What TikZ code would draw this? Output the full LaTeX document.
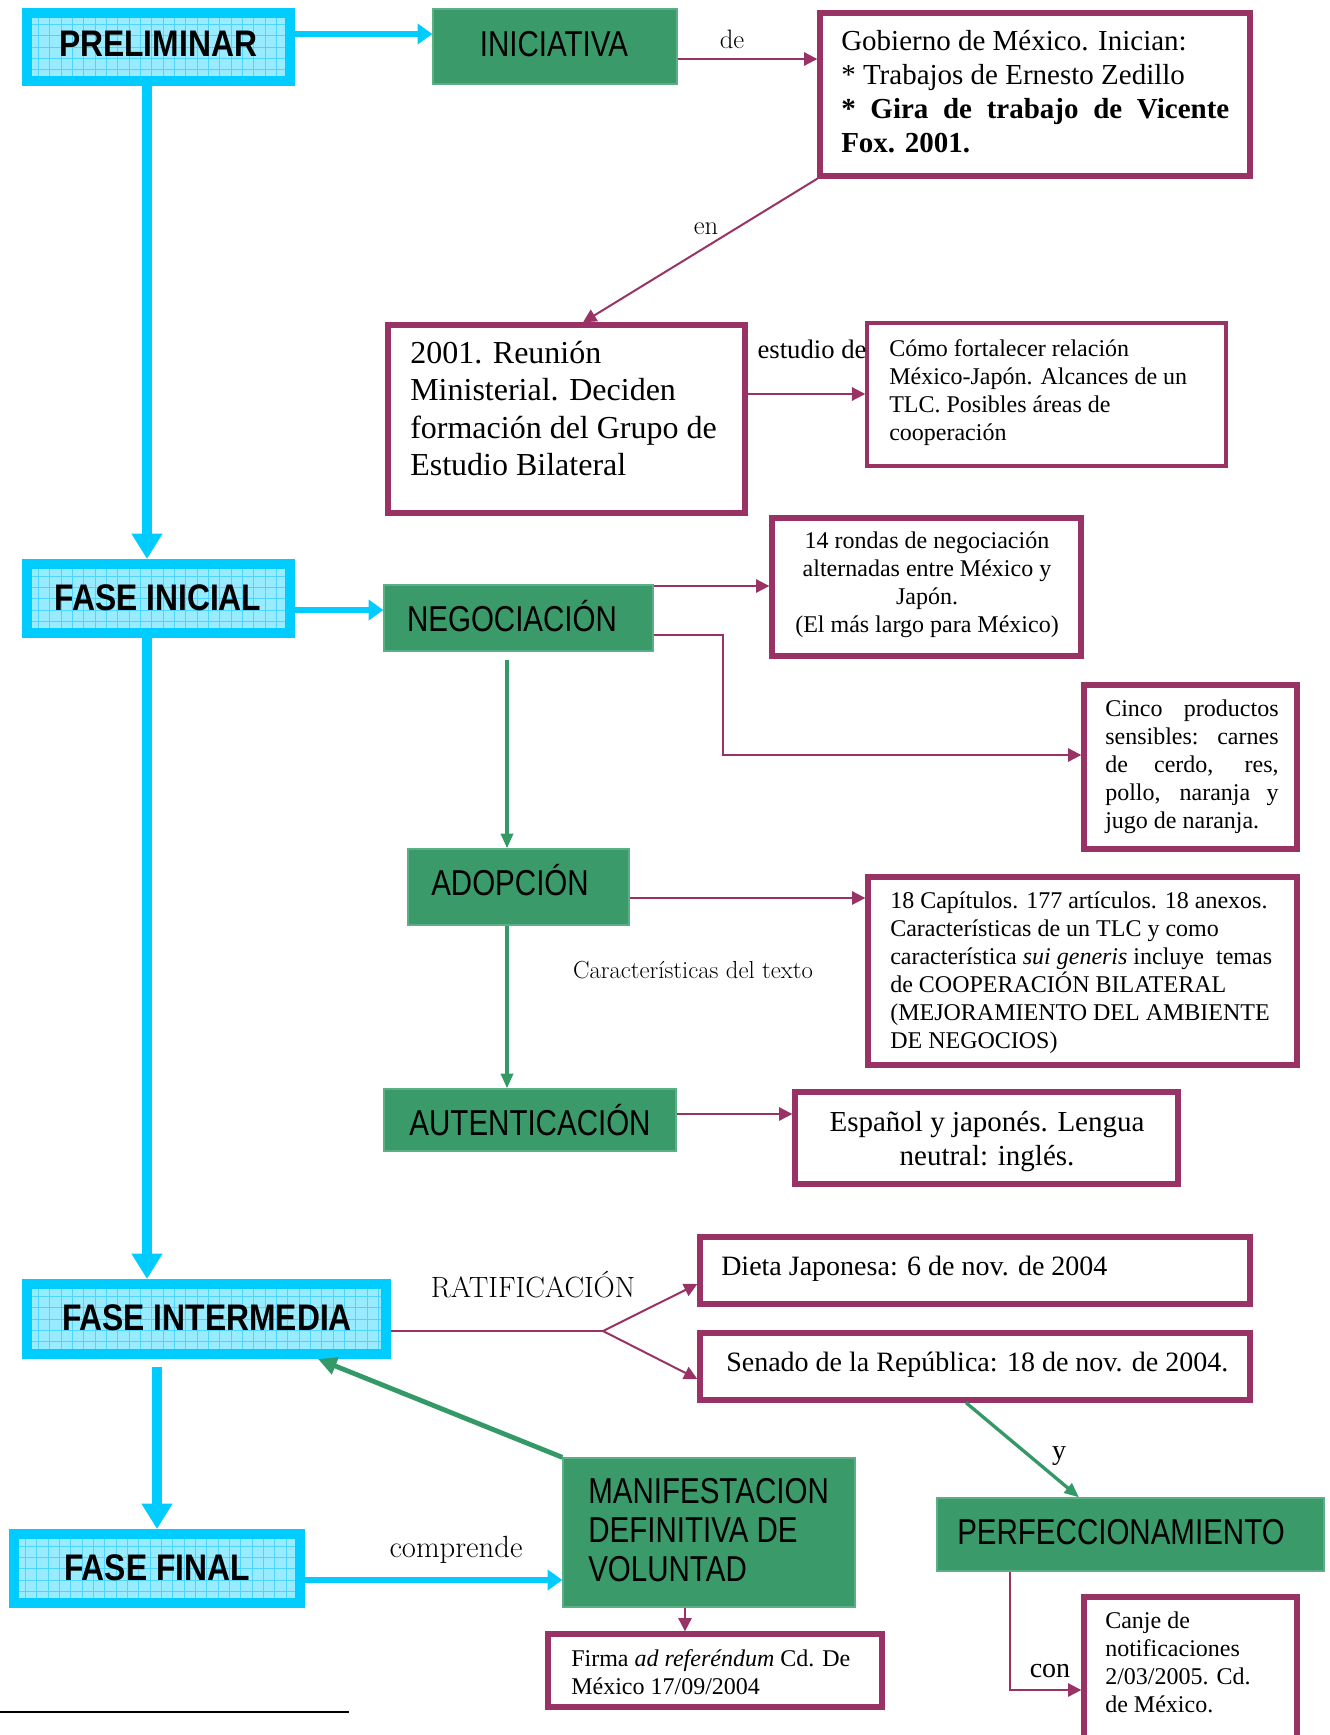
\documentclass[tikz,border=0pt]{standalone}
\usepackage{fontspec}
\usetikzlibrary{arrows.meta,fit,calc}
\newfontfamily\tmfont{Liberation Serif}
\newfontfamily\hdfont[FakeStretch=0.86]{Liberation Sans}
\newfontfamily\gnfont[FakeStretch=0.82]{Liberation Sans}
\definecolor{cyanB}{HTML}{00CCFF}
\definecolor{cyanL}{HTML}{99EBFF}
\definecolor{cyanG}{HTML}{4DD5FF}
\definecolor{greenF}{HTML}{3A9A6A}
\definecolor{greenE}{HTML}{5BAF84}
\definecolor{greenA}{HTML}{339966}
\definecolor{mag}{HTML}{993366}
\tikzset{
  cyanbox/.style={draw=cyanB, line width=7.5pt, fill=cyanL, inner sep=0pt,
    path picture={\draw[cyanG, line width=0.5pt, step=8.5pt] (path picture bounding box.south west) grid (path picture bounding box.north east);}},
  greenbox/.style={draw=greenE, line width=1pt, fill=greenF, inner sep=0pt},
  magbox/.style={draw=mag, line width=4pt, fill=white, inner sep=0pt},
  thinmag/.style={draw=mag, line width=2.6pt, fill=white, inner sep=0pt},
  hdtext/.style={font=\hdfont\bfseries\fontsize{27.75}{32}\selectfont, inner sep=0pt},
  gntext/.style={font=\gnfont\fontsize{27}{29.25}\selectfont, inner sep=0pt},
  tmA/.style={font=\tmfont\fontsize{21.75}{25.5}\selectfont, inner sep=0pt, align=left},
  tmB/.style={font=\tmfont\fontsize{24}{28.1}\selectfont, inner sep=0pt, align=left},
  tmC/.style={font=\tmfont\fontsize{18}{21}\selectfont, inner sep=0pt, align=left},
  tmD/.style={font=\tmfont\fontsize{21}{25}\selectfont, inner sep=0pt, align=left},
  lbl/.style={inner sep=0pt},
  cyanarrow/.style={draw=cyanB, line width=4pt, -{Triangle[length=11pt,width=15pt]}},
  cyanvert/.style={draw=cyanB, line width=7.5pt, -{Triangle[length=19pt,width=22pt]}},
  magarrow/.style={draw=mag, line width=1.5pt, -{Triangle[length=10pt,width=10pt]}},
  magline/.style={draw=mag, line width=1.5pt},
  grarrow/.style={draw=greenA, line width=2.5pt, -{Triangle[length=11pt,width=9pt]}},
  grthick/.style={draw=greenA, line width=3.6pt, -{Triangle[length=14pt,width=13pt]}},
}
\begin{document}
\begin{tikzpicture}[x=0.75pt, y=-0.75pt]
\path[use as bounding box, clip] (0,0) rectangle (1330,1735);
\fill[white] (0,0) rectangle (1330,1735);

% ---------- boxes ----------
\node[cyanbox, fit={(27,13) (290,81)}] (prelim) {};
\node[hdtext] (prelimt) at (158,44) {PRELIMINAR};
\node[greenbox, fit={(433,9) (677,84)}] (inic) {};
\node[gntext] (inict) at (554,44) {INICIATIVA};
\node[magbox, fit={(820,13) (1250,176)}] (gob) {};
\node[tmA, anchor=north west] (gobt) at (841,26) {\strut Gobierno de México. Inician:\\ * Trabajos de Ernesto Zedillo\\ \makebox[291pt][s]{\bfseries * Gira de trabajo de Vicente}\\ \textbf{Fox. 2001.}};

\node[magbox, fit={(388,325) (745,513)}] (reun) {};
\node[tmB, anchor=north west] (reunt) at (410,337) {\strut 2001. Reunión\\ Ministerial. Deciden\\ formación del Grupo de\\ Estudio Bilateral};
\node[thinmag, fit={(867,323) (1226,466)}] (como) {};
\node[tmC, anchor=north west] (comot) at (889,337) {\strut Cómo fortalecer relación\\ México-Japón. Alcances de un\\ TLC. Posibles áreas de\\ cooperación};

\node[cyanbox, fit={(27,564) (290,633)}] (fini) {};
\node[hdtext] (finit) at (158,598) {FASE INICIAL};
\node[greenbox, fit={(384,585) (653,651)}] (nego) {};
\node[gntext] (negot) at (512,616) {NEGOCIACIÓN};
\node[magbox, fit={(772,518) (1081,656)}] (ronda) {};
\node[tmC, anchor=north, align=center] (rondat) at (927,529) {\strut 14 rondas de negociación\\ alternadas entre México y\\ Japón.\\ (El más largo para México)};
\node[magbox, fit={(1084,685) (1297,849)}] (cinco) {};
\node[tmC, anchor=north west] (cincot) at (1105,697) {\strut\makebox[130pt][s]{Cinco productos}\\ \makebox[130pt][s]{sensibles: carnes}\\ \makebox[130pt][s]{de cerdo, res,}\\ \makebox[130pt][s]{pollo, naranja y}\\ jugo de naranja.};

\node[greenbox, fit={(408,849) (629,925)}] (adop) {};
\node[gntext] (adopt) at (510,880) {ADOPCIÓN};
\node[magbox, fit={(868,877) (1297,1065)}] (cap) {};
\node[tmC, anchor=north west] (capt) at (890,889) {\strut 18 Capítulos. 177 artículos. 18 anexos.\\ Características de un TLC y como\\ característica \textit{sui generis} incluye\ \ temas\\ de COOPERACIÓN BILATERAL\\ (MEJORAMIENTO DEL AMBIENTE\\ DE NEGOCIOS)};

\node[greenbox, fit={(384,1089) (676,1151)}] (aut) {};
\node[gntext] (autt) at (530,1120) {AUTENTICACIÓN};
\node[magbox, fit={(795,1092) (1178,1184)}] (esp) {};
\node[tmA, anchor=north, align=center] (espt) at (987,1107) {\strut Español y japonés. Lengua\\ neutral: inglés.};

\node[cyanbox, fit={(27,1284) (386,1354)}] (fint) {};
\node[hdtext] (fintt) at (207,1318) {FASE INTERMEDIA};
\node[magbox, fit={(700,1237) (1250,1304)}] (dieta) {};
\node[tmD, anchor=north west] (dietat) at (721,1252) {\strut Dieta Japonesa: 6 de nov. de 2004};
\node[magbox, fit={(700,1333) (1250,1400)}] (senado) {};
\node[tmD, anchor=north west] (senadot) at (726,1348) {\strut Senado de la República: 18 de nov. de 2004.};

\node[greenbox, fit={(937,1498) (1324,1571)}] (perf) {};
\node[gntext] (perft) at (1121,1532) {PERFECCIONAMIENTO};
\node[magbox, fit={(1084,1597) (1297,1765)}] (canje) {};
\node[tmC, anchor=north west] (canjet) at (1105,1609) {\strut Canje de\\ notificaciones\\ 2/03/2005. Cd.\\ de México.};

\node[cyanbox, fit={(14,1534) (300,1603)}] (ffin) {};
\node[hdtext] (ffint) at (157,1568) {FASE FINAL};
\node[greenbox, fit={(563,1458) (855,1607)}] (manif) {};
\node[gntext, anchor=north west, align=left] (manift) at (588,1476) {\strut MANIFESTACION\\ DEFINITIVA DE\\ VOLUNTAD};
\node[magbox, fit={(548,1634) (882,1707)}] (firma) {};
\node[tmC, anchor=north west] (firmat) at (571,1647) {\strut Firma \textit{ad referéndum} Cd. De\\ México 17/09/2004};

% ---------- labels ----------
\node[lbl, font=\fontsize{20}{23}\selectfont] (lde) at (732,39) {de};
\node[lbl, font=\fontsize{20}{23}\selectfont] (len) at (706,229) {en};
\node[lbl, font=\tmfont\fontsize{20}{23}\selectfont] (lest) at (812,349) {estudio de};
\node[lbl, font=\fontsize{18.5}{21}\selectfont] (lcar) at (693,970) {Características del texto};
\node[lbl, font=\fontsize{22}{25}\selectfont] (lrat) at (533,1285) {RATIFICACIÓN};
\node[lbl, font=\fontsize{23}{26}\selectfont] (lcomp) at (456,1550) {comprende};
\node[lbl, font=\tmfont\fontsize{21}{24}\selectfont] (ly) at (1059,1456) {y};
\node[lbl, font=\tmfont\fontsize{21}{24}\selectfont] (lcon) at (1050,1671) {con};

% ---------- coordinates ----------
\coordinate (bendA) at (723,755);
\coordinate (negdown) at (507,660);
\coordinate (ratif) at (603,1331);
\coordinate (fintdown) at (157,1367);

% ---------- connectors ----------
\draw[cyanarrow] (prelim.east |- 0,34) -- (inic.west |- 0,34);
\draw[magarrow] (inic.east |- 0,59) -- (gob.west |- 0,59);
\draw[magarrow] (gob.south west) -- (583,0 |- reun.north);
\draw[magarrow] (reun.east |- 0,394) -- (como.west |- 0,394);
\draw[cyanvert] (147,0 |- prelim.south) -- (147,0 |- fini.north);
\draw[cyanarrow] (fini.east |- 0,610) -- (nego.west |- 0,610);
\draw[magarrow] (nego.east |- 0,586) -- (ronda.west |- 0,586);
\draw[magarrow] (nego.east |- 0,635) -| (bendA) -- (cinco.west |- bendA);
\draw[grarrow] (negdown) -- (negdown |- adop.north);
\draw[magarrow] (adop.east |- 0,898) -- (cap.west |- 0,898);
\draw[grarrow] (507,0 |- adop.south) -- (507,0 |- aut.north);
\draw[magarrow] (aut.east |- 0,1114) -- (esp.west |- 0,1114);
\draw[cyanvert] (147,0 |- fini.south) -- (147,0 |- fint.north);
\draw[magline] (fint.east |- ratif) -- (ratif);
\draw[magarrow] (ratif) -- (dieta.west |- 0,1284);
\draw[magarrow] (ratif) -- (senado.west |- 0,1379);
\draw[grarrow] (966,0 |- senado.south) -- (1079,0 |- perf.north);
\draw[magarrow] (1010,0 |- perf.south) |- (canje.west |- 0,1690);
\draw[cyanvert] (fintdown) -- (fintdown |- ffin.north);
\draw[cyanarrow] (ffin.east |- 0,1580) -- (manif.west |- 0,1580);
\draw[grthick] (manif.north west) -- (318,0 |- fint.south);
\draw[magarrow] (685,0 |- manif.south) -- (685,0 |- firma.north);

% footnote rule
\draw[line width=1.5pt] (0,1712) -- (349,1712);
\end{tikzpicture}
\end{document}
